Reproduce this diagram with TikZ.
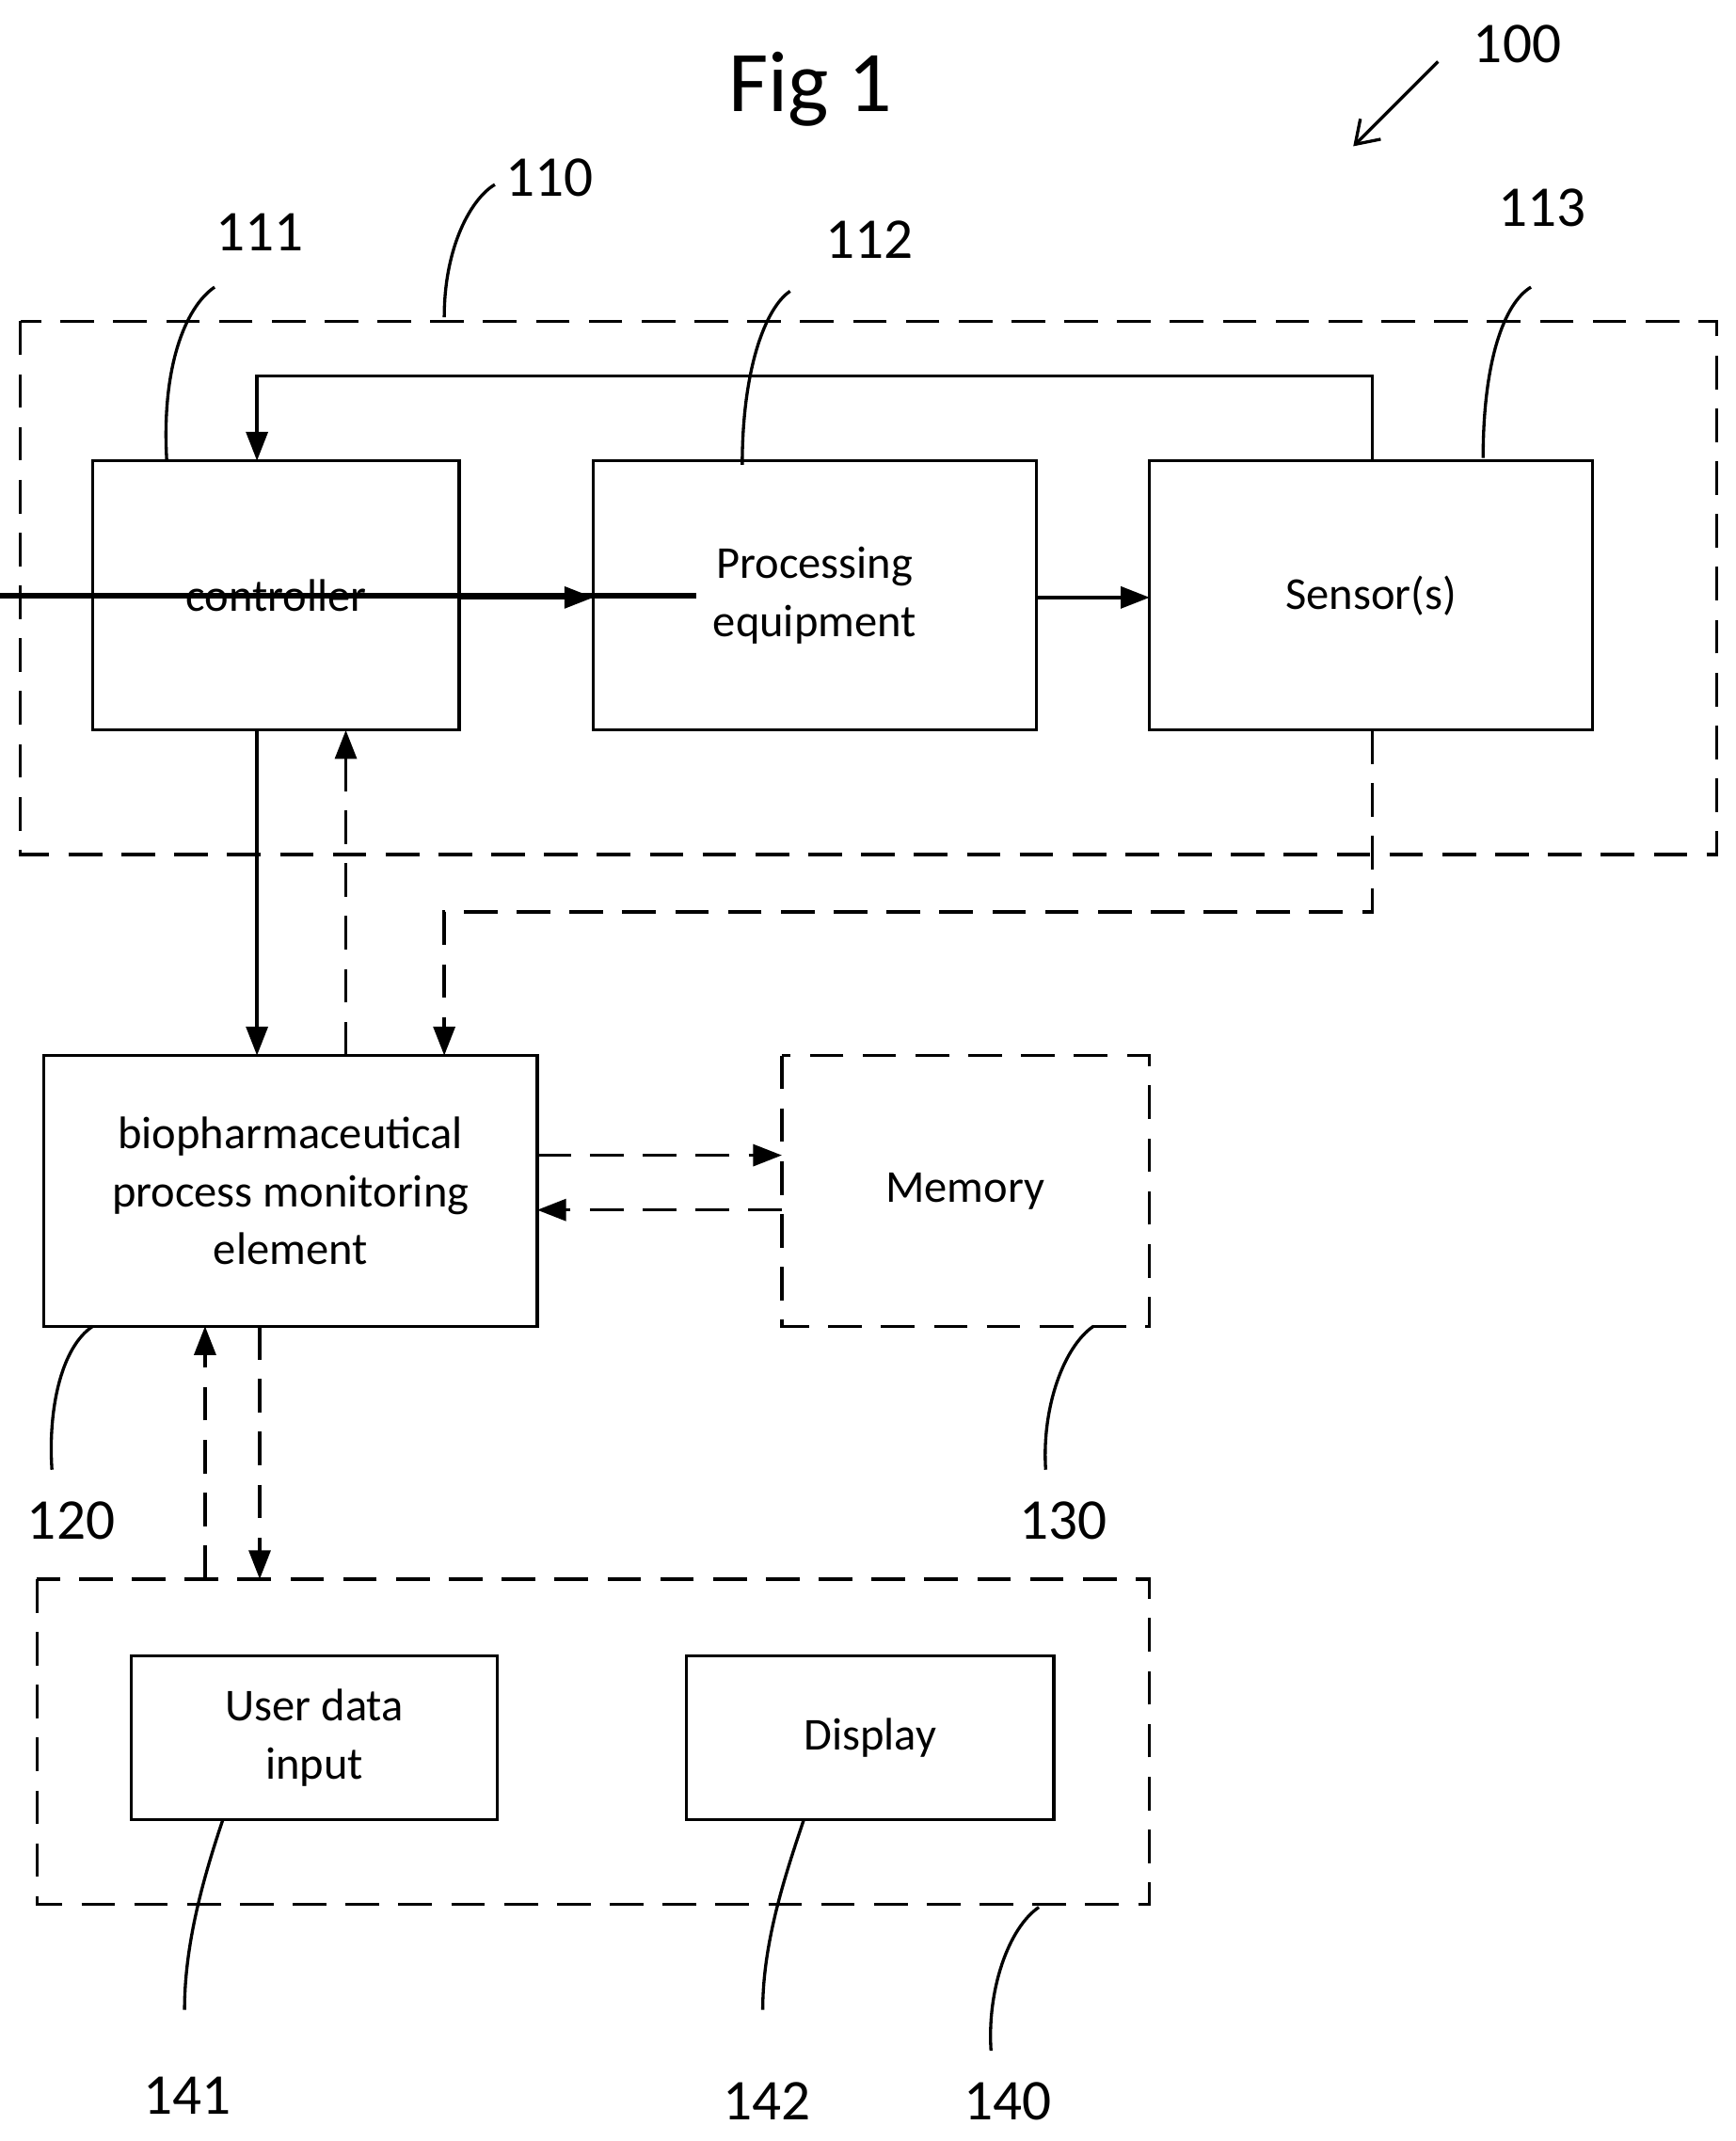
\documentclass[tikz,border=0pt]{standalone}
\usepackage{fontspec}
\setmainfont{Carlito}
\usetikzlibrary{arrows.meta}
\begin{document}
\begin{tikzpicture}[x=0.02cm,y=-0.02cm,
  box/.style={draw,line width=1.3pt,inner sep=0pt,align=center,font=\fontsize{19}{24}\selectfont},
  dbox/.style={draw,line width=1.3pt,dash pattern=on 14pt off 8pt},
  arr/.style={line width=1.3pt,-{Triangle[length=12pt,width=9pt]}},
  darr/.style={arr,dash pattern=on 14pt off 8pt},
  lead/.style={line width=1.3pt},
  lbl/.style={font=\fontsize{24}{28}\selectfont}]
\useasboundingbox (0,0) rectangle (1270,1566);
\node[font=\fontsize{36}{40}\selectfont] (fig) at (593,65) {Fig 1};
% 110 group
\draw[dbox] (15,235) rectangle (1256,625);
\node[box,minimum width=268\pgflinewidth] (ctrl) at (202,435.5) {};
\draw[line width=1.3pt] (68,337) rectangle (336,534);
\node[box,draw=none] (ctrlt) at (202,435.5) {controller};
\coordinate (ctop) at (188,337);
\draw[line width=1.3pt] (434,337) rectangle (758,534);
\node[box,draw=none] (proc) at (596,435.5) {Processing\\equipment};
\draw[line width=1.3pt] (841,337) rectangle (1165,534);
\node[box,draw=none] (sens) at (1003,435.5) {Sensor(s)};
\draw[arr] (336,437) -- (434,437);
\draw[arr] (758,437) -- (841,437);
\draw[arr] (1004,337) -- (1004,275) -- (188,275) -- (188,337);
% bio element
\draw[line width=1.3pt] (32,772) rectangle (393,970);
\node[box,draw=none] (bio) at (212.5,871) {biopharmaceutical\\process monitoring\\element};
\draw[dbox] (572,772) rectangle (841,970);
\node[box,draw=none] (mem) at (706,871) {Memory};
\draw[arr] (188,534) -- (188,772);
\draw[darr] (253,772) -- (253,534);
\draw[darr] (1004,534) -- (1004,667) -- (325,667) -- (325,772);
\draw[darr] (393,845) -- (572,845);
\draw[darr] (572,885) -- (393,885);
% 140 group
\draw[dbox] (27,1155) rectangle (841,1393);
\draw[line width=1.3pt] (96,1211) rectangle (364,1331);
\node[box,draw=none] (udi) at (230,1271) {User data\\input};
\draw[line width=1.3pt] (502,1211) rectangle (771,1331);
\node[box,draw=none] (disp) at (636.5,1271) {Display};
\draw[darr] (150,1155) -- (150,970);
\draw[darr] (190,970) -- (190,1155);
% leaders and labels
\node[lbl] (l100) at (1110,32) {100};
\draw[lead,-{Straight Barb[length=9pt,width=12pt]}] (1052,45) -- (990,107);
\node[lbl] (l110) at (402,130) {110};
\draw[lead] (325,232) .. controls (325,180) and (345,145) .. (362,135);
\node[lbl] (l111) at (190,170) {111};
\draw[lead] (122,337) .. controls (118,270) and (135,225) .. (157,210);
\node[lbl] (l112) at (636,175) {112};
\draw[lead] (543,340) .. controls (543,270) and (560,225) .. (578,213);
\node[lbl] (l113) at (1128,152) {113};
\draw[lead] (1085,335) .. controls (1085,265) and (1100,222) .. (1120,210);
\node[lbl] (l120) at (52,1112) {120};
\draw[lead] (68,970) .. controls (45,985) and (35,1030) .. (38,1075);
\node[lbl] (l130) at (778,1112) {130};
\draw[lead] (800,970) .. controls (778,985) and (762,1030) .. (765,1075);
\node[lbl] (l141) at (137,1533) {141};
\draw[lead] (163,1331) .. controls (150,1370) and (135,1420) .. (135,1470);
\node[lbl] (l142) at (561,1537) {142};
\draw[lead] (588,1331) .. controls (575,1370) and (558,1420) .. (558,1470);
\node[lbl] (l140) at (737,1537) {140};
\draw[lead] (760,1395) .. controls (738,1410) and (722,1455) .. (725,1500);
\end{tikzpicture}
\end{document}
